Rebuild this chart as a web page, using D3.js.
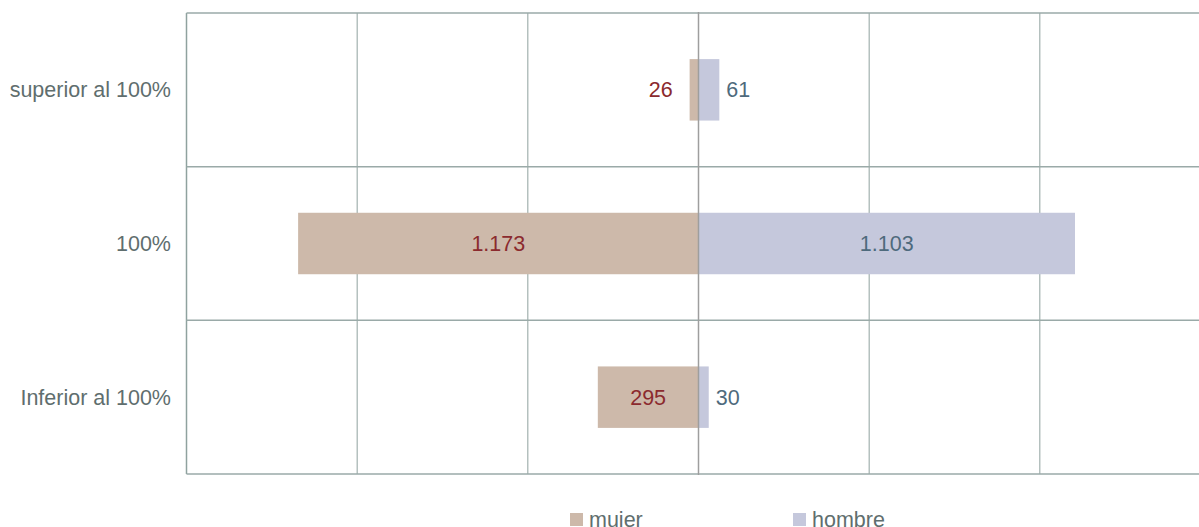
<!DOCTYPE html>
<html>
<head>
<meta charset="utf-8">
<script src="https://cdn.jsdelivr.net/npm/d3@7"></script>
<style>
  body { margin: 0; background: #fff; overflow: hidden; }
  text { font-family: "Liberation Sans", Arial, sans-serif; }
</style>
</head>
<body>
<svg id="chart"></svg>
<script>
const width = 1199;
const height = 527;

// data
const categories = ["superior al 100%", "100%", "Inferior al 100%"];
const mujer = [26, 1173, 295];
const hombre = [61, 1103, 30];
const seriesNames = ["mujer", "hombre"];
const xTicks = [-1500, -1000, -500, 0, 500, 1000, 1500];

const colors = { mujer: "#cdb9aa", hombre: "#c5c8dc" };
const labelColors = { mujer: "#8b2a2e", hombre: "#4e6a7c" };
const fontSize = 21.5;

const margin = { top: 13, left: 186.5, bottom: 474 };

const svg = d3.select("#chart")
    .attr("width", width)
    .attr("height", height);

const x = d3.scaleLinear()
    .domain([-1500, 1500])
    .range([186.5, 1210.5]);

const y = d3.scaleBand()
    .domain(categories)
    .range([margin.top, margin.bottom])
    .paddingInner(0)
    .paddingOuter(0);

const barH = y.bandwidth() * 0.4;
const fmt = v => d3.format(",")(v).replace(/,/g, ".");

// gridlines
svg.selectAll(".vgrid")
    .data(xTicks.filter(t => t !== 0))
    .enter().append("line")
    .attr("x1", d => x(d)).attr("x2", d => x(d))
    .attr("y1", margin.top).attr("y2", margin.bottom)
    .attr("stroke", "#8fa29f")
    .attr("stroke-width", d => d === -1500 ? 1.5 : 1);

const hLines = categories.map(c => y(c)).concat([margin.bottom]);
svg.selectAll(".hgrid")
    .data(hLines)
    .enter().append("line")
    .attr("x1", margin.left).attr("x2", width)
    .attr("y1", d => d).attr("y2", d => d)
    .attr("stroke", "#9aaaa8")
    .attr("stroke-width", 1.5);

// bars
const rows = categories.map((c, i) => ({ cat: c, mujer: mujer[i], hombre: hombre[i] }));

svg.selectAll(".bar-m")
    .data(rows)
    .enter().append("rect")
    .attr("x", d => x(-d.mujer))
    .attr("width", d => x(0) - x(-d.mujer))
    .attr("y", d => y(d.cat) + (y.bandwidth() - barH) / 2)
    .attr("height", barH)
    .attr("fill", colors.mujer);

svg.selectAll(".bar-h")
    .data(rows)
    .enter().append("rect")
    .attr("x", x(0))
    .attr("width", d => x(d.hombre) - x(0))
    .attr("y", d => y(d.cat) + (y.bandwidth() - barH) / 2)
    .attr("height", barH)
    .attr("fill", colors.hombre);

// center axis
svg.append("line")
    .attr("x1", x(0)).attr("x2", x(0))
    .attr("y1", margin.top - 1).attr("y2", margin.bottom + 1)
    .attr("stroke", "#9e9e9e")
    .attr("stroke-width", 1.5);

// value labels
svg.selectAll(".lab-m")
    .data(rows)
    .enter().append("text")
    .attr("x", d => {
        const w = x(0) - x(-d.mujer);
        return w > 60 ? (x(-d.mujer) + x(0)) / 2 : x(-d.mujer) - 17;
    })
    .attr("text-anchor", d => (x(0) - x(-d.mujer)) > 60 ? "middle" : "end")
    .attr("y", d => y(d.cat) + y.bandwidth() / 2)
    .attr("dy", "0.35em")
    .attr("font-size", fontSize)
    .attr("fill", labelColors.mujer)
    .text(d => fmt(d.mujer));

svg.selectAll(".lab-h")
    .data(rows)
    .enter().append("text")
    .attr("x", d => {
        const w = x(d.hombre) - x(0);
        return w > 60 ? (x(0) + x(d.hombre)) / 2 : x(d.hombre) + 7;
    })
    .attr("text-anchor", d => (x(d.hombre) - x(0)) > 60 ? "middle" : "start")
    .attr("y", d => y(d.cat) + y.bandwidth() / 2)
    .attr("dy", "0.35em")
    .attr("font-size", fontSize)
    .attr("fill", labelColors.hombre)
    .text(d => fmt(d.hombre));

// category labels
svg.selectAll(".cat")
    .data(categories)
    .enter().append("text")
    .attr("x", 171)
    .attr("y", d => y(d) + y.bandwidth() / 2)
    .attr("dy", "0.35em")
    .attr("text-anchor", "end")
    .attr("font-size", fontSize)
    .attr("fill", "#5f6e6e")
    .text(d => d);

// legend
const legendX = [570, 793];
const legend = svg.selectAll(".legend")
    .data(seriesNames)
    .enter().append("g")
    .attr("transform", (d, i) => `translate(${legendX[i]},513)`);

legend.append("rect")
    .attr("width", 13).attr("height", 13)
    .attr("fill", d => colors[d]);

legend.append("text")
    .attr("x", 19)
    .attr("y", 14)
    .attr("font-size", fontSize)
    .attr("fill", "#5f6e6e")
    .text(d => d);
</script>
</body>
</html>
